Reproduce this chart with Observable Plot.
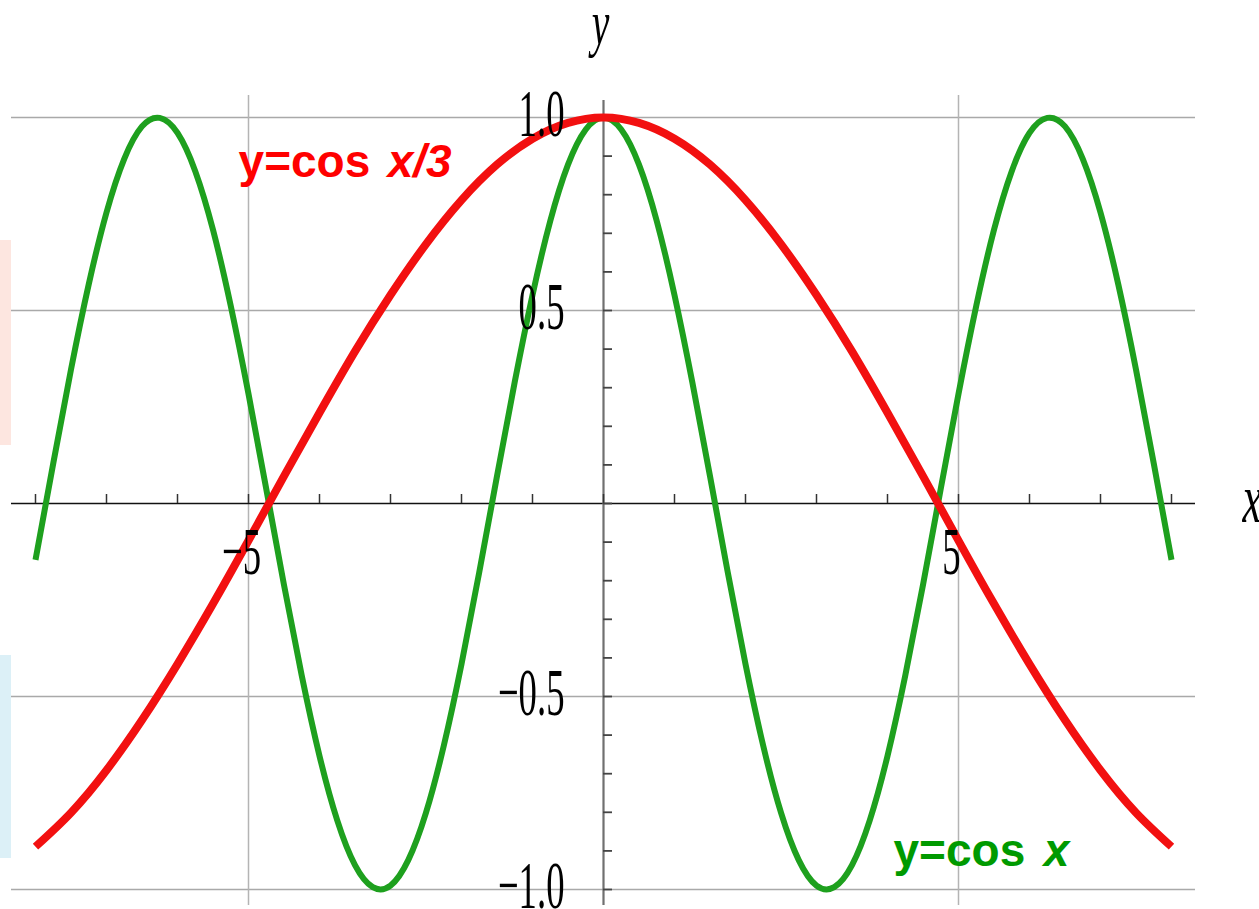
<!DOCTYPE html>
<html><head><meta charset="utf-8">
<script src="https://cdn.jsdelivr.net/npm/d3@7"></script>
<script src="https://cdn.jsdelivr.net/npm/@observablehq/plot@0.6"></script>
<style>
html,body{margin:0;padding:0;background:#fff;}
#wrap{position:relative;width:1259px;height:909px;overflow:hidden;background:#fff;}
.deco{position:absolute;left:0;width:11px;}
#wrap svg{position:absolute;left:0;top:0;}
</style></head><body>
<div id="wrap">
<div class="deco" style="top:240px;height:205px;background:#fde6e0;"></div>
<div class="deco" style="top:655px;height:203px;background:#dcf0f7;"></div>
</div>
<script>
// y = cos x (green)
const xGreen = [-8,-7.75,-7.5,-7.25,-7,-6.75,-6.5,-6.25,-6,-5.75,-5.5,-5.25,-5,-4.75,-4.5,-4.25,-4,-3.75,-3.5,-3.25,-3,-2.75,-2.5,-2.25,-2,-1.75,-1.5,-1.25,-1,-0.75,-0.5,-0.25,0,0.25,0.5,0.75,1,1.25,1.5,1.75,2,2.25,2.5,2.75,3,3.25,3.5,3.75,4,4.25,4.5,4.75,5,5.25,5.5,5.75,6,6.25,6.5,6.75,7,7.25,7.5,7.75,8];
const yGreen = [-0.146,0.104,0.347,0.568,0.754,0.893,0.977,0.999,0.960,0.861,0.709,0.512,0.284,0.038,-0.211,-0.446,-0.654,-0.821,-0.937,-0.994,-0.990,-0.924,-0.801,-0.628,-0.416,-0.178,0.071,0.315,0.540,0.732,0.878,0.969,1.000,0.969,0.878,0.732,0.540,0.315,0.071,-0.178,-0.416,-0.628,-0.801,-0.924,-0.990,-0.994,-0.937,-0.821,-0.654,-0.446,-0.211,0.038,0.284,0.512,0.709,0.861,0.960,0.999,0.977,0.893,0.754,0.568,0.347,0.104,-0.146];
// y = cos x/3 (red)
const xRed = [-8,-7.5,-7,-6.5,-6,-5.5,-5,-4.5,-4,-3.5,-3,-2.5,-2,-1.5,-1,-0.5,0,0.5,1,1.5,2,2.5,3,3.5,4,4.5,5,5.5,6,6.5,7,7.5,8];
const yRed = [-0.889,-0.801,-0.691,-0.561,-0.416,-0.260,-0.096,0.071,0.235,0.394,0.540,0.672,0.786,0.878,0.945,0.986,1.000,0.986,0.945,0.878,0.786,0.672,0.540,0.394,0.235,0.071,-0.096,-0.260,-0.416,-0.561,-0.691,-0.801,-0.889];
// axes
const xTicks = [-8,-7,-6,-5,-4,-3,-2,-1,0,1,2,3,4,5,6,7,8];
const yTicks = [-1,-0.9,-0.8,-0.7,-0.6,-0.5,-0.4,-0.3,-0.2,-0.1,0,0.1,0.2,0.3,0.4,0.5,0.6,0.7,0.8,0.9,1];
const gridYValues = [-1,-0.5,0.5,1];
const gridXValues = [-5,5];
const xLabelValues = [-5,5];
const xLabelTexts = ["\u22125","5"];
const yLabelValues = [1,0.5,-0.5,-1];
const yLabelTexts = ["1.0","0.5","\u22120.5","\u22121.0"];
// annotations
const annRedX = [-5.14,-3.04], annRedY = [0.845,0.845], annRedT = ["y=cos","x/3"];
const annGreenX = [4.085,6.2], annGreenY = [-0.938,-0.938], annGreenT = ["y=cos","x"];

const TICKFONT = "Liberation Serif, Times New Roman, serif";
const NAMEFONT = "Liberation Serif, Times, serif";
const ANNFONT = "Liberation Sans, Arial, sans-serif";
const GREENTXT = "#009a00";

const plot = Plot.plot({
  width: 1259, height: 909,
  marginLeft: 35, marginRight: 88, marginTop: 117, marginBottom: 20,
  x: {domain: [-8, 8], axis: null},
  y: {domain: [-1, 1], axis: null},
  style: {background: "transparent", overflow: "visible"},
  marks: [
    Plot.ruleY(gridYValues, {y: d => d, stroke: "#a9a9a9", strokeWidth: 1.5, insetLeft: -24, insetRight: -24}),
    Plot.ruleX(gridXValues, {x: d => d, stroke: "#b4b4b4", strokeWidth: 1.5, insetTop: -22, insetBottom: -16}),
    Plot.ruleY([0], {y: d => d, stroke: "#111", strokeWidth: 1.5, insetLeft: -24, insetRight: -24}),
    Plot.ruleX([0], {x: d => d, stroke: "#707070", strokeWidth: 2.2, insetTop: -17, insetBottom: -16}),
    Plot.ruleX(xTicks, {x: d => d, y1: () => 0, y2: () => 0, insetTop: -9, stroke: "#333", strokeWidth: 1.5}),
    Plot.ruleY(yTicks, {y: d => d, x1: () => 0, x2: () => 0, insetRight: -9, stroke: "#444", strokeWidth: 1.8}),
    Plot.line(yGreen, {x: xGreen, y: yGreen, curve: "natural", stroke: "#1ea01e", strokeWidth: 6, strokeLinecap: "butt"}),
    Plot.line(yRed, {x: xRed, y: yRed, curve: "natural", stroke: "#f21010", strokeWidth: 8, strokeLinecap: "butt"}),
    Plot.text(yLabelTexts, {x: () => 0, y: yLabelValues, text: yLabelTexts, textAnchor: "end", lineAnchor: "bottom", dx: -39, dy: 18, fontSize: 68, fontFamily: TICKFONT, fill: "#000"}),
    Plot.text(xLabelTexts, {x: xLabelValues, y: () => 0, text: xLabelTexts, textAnchor: "middle", lineAnchor: "bottom", dx: -7, dy: 70, fontSize: 68, fontFamily: TICKFONT, fill: "#000"}),
    Plot.text(["y"], {x: () => -0.04, y: () => 1.19, text: d => d, textAnchor: "middle", lineAnchor: "bottom", fontSize: 64, fontStyle: "italic", fontFamily: NAMEFONT, fill: "#000"}),
    Plot.text(["x"], {x: () => 9.0, y: () => -0.049, text: d => d, textAnchor: "start", lineAnchor: "bottom", fontSize: 70, fontStyle: "italic", fontFamily: NAMEFONT, fill: "#000"}),
    Plot.text(annRedT, {x: annRedX, y: annRedY, text: annRedT, textAnchor: "start", lineAnchor: "bottom", fontSize: 46, fontWeight: "bold", fontFamily: ANNFONT, fill: "#ff0000"}),
    Plot.text(annGreenT, {x: annGreenX, y: annGreenY, text: annGreenT, textAnchor: "start", lineAnchor: "bottom", fontSize: 46, fontWeight: "bold", fontFamily: ANNFONT, fill: GREENTXT})
  ]
});
document.getElementById("wrap").appendChild(plot);

function squeeze(font, sx) {
  d3.select(plot).selectAll("g").filter(function () { return this.getAttribute("font-family") === font; })
    .selectAll("text").each(function () {
      const t = this.getAttribute("transform");
      if (t) this.setAttribute("transform", t + ` scale(${sx},1)`);
      else {
        const x = +this.getAttribute("x") || 0;
        this.removeAttribute("x");
        this.setAttribute("transform", `translate(${x},0) scale(${sx},1)`);
      }
    });
}
squeeze(TICKFONT, 0.54);
squeeze(NAMEFONT, 0.62);
// the variable part of each label is italic
d3.select(plot).selectAll("g").filter(function () {
  const f = this.getAttribute("fill"); return f === GREENTXT || f === "#ff0000";
}).selectAll("text").filter((d, i) => i === 1).attr("font-style", "italic");
</script>
</body></html>
